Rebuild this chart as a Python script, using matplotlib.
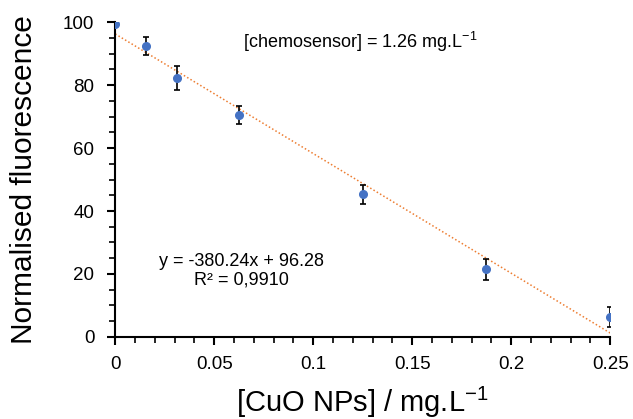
import numpy as np
import matplotlib.pyplot as plt
from matplotlib.ticker import MultipleLocator, FixedLocator

plt.rcParams['font.family'] = ['Liberation Sans', 'DejaVu Sans']
plt.rcParams['mathtext.fontset'] = 'custom'
plt.rcParams['mathtext.rm'] = 'Liberation Sans'
plt.rcParams['mathtext.it'] = 'Liberation Sans:italic'

# data
conc = [0, 0.015625, 0.03125, 0.0625, 0.125, 0.1875, 0.25]
fluo = [99.5, 92.4, 82.3, 70.5, 45.3, 21.5, 6.3]
err = [0.0, 2.9, 3.9, 3.0, 3.1, 3.3, 3.1]
slope = -380.24
intercept = 96.28

fig = plt.figure(figsize=(6.33, 4.19), dpi=100)
ax = fig.add_axes([0.182, 0.196, 0.782, 0.751])

# trendline
xt = np.array([0, 0.25])
ax.plot(xt, slope * xt + intercept, color='#ED7D31', linestyle=(0, (1, 1.5)), linewidth=1.1, zorder=1)

ax.errorbar(conc, fluo, yerr=err, fmt='o', color='#4472C4', markersize=5.5,
            ecolor='black', elinewidth=1.2, capsize=2.5, capthick=1.2, zorder=3)

ax.set_xlim(0, 0.25)
ax.set_ylim(0, 100)
ax.xaxis.set_major_locator(FixedLocator([0, 0.05, 0.1, 0.15, 0.2, 0.25]))
ax.set_xticklabels(['0', '0.05', '0.1', '0.15', '0.2', '0.25'])
ax.xaxis.set_minor_locator(MultipleLocator(0.01))
ax.yaxis.set_major_locator(MultipleLocator(20))
ax.yaxis.set_minor_locator(MultipleLocator(5))

for s in ['top', 'right']:
    ax.spines[s].set_visible(False)
for s in ['left', 'bottom']:
    ax.spines[s].set_linewidth(1.5)

ax.tick_params(which='major', direction='out', length=6, width=1.5, labelsize=13.5)
ax.tick_params(axis='y', which='major', pad=9)
ax.tick_params(axis='x', which='major', pad=8)
ax.tick_params(which='minor', direction='out', length=4, width=1.2)

ax.set_xlabel(r'[CuO NPs] / mg.L$\mathregular{^{-1}}$', fontsize=21, labelpad=8)
ax.set_ylabel('Normalised fluorescence', fontsize=21.5, labelpad=18)

ax.text(0.1237, 93.6, r'[chemosensor] = 1.26 mg.L$\mathregular{^{-1}}$', fontsize=13,
        ha='center', va='center')
ax.text(0.0636, 21, 'y = -380.24x + 96.28\nR² = 0,9910', fontsize=13, ha='center', va='center',
        linespacing=1.15)

fig.savefig('out.png', dpi=100)
